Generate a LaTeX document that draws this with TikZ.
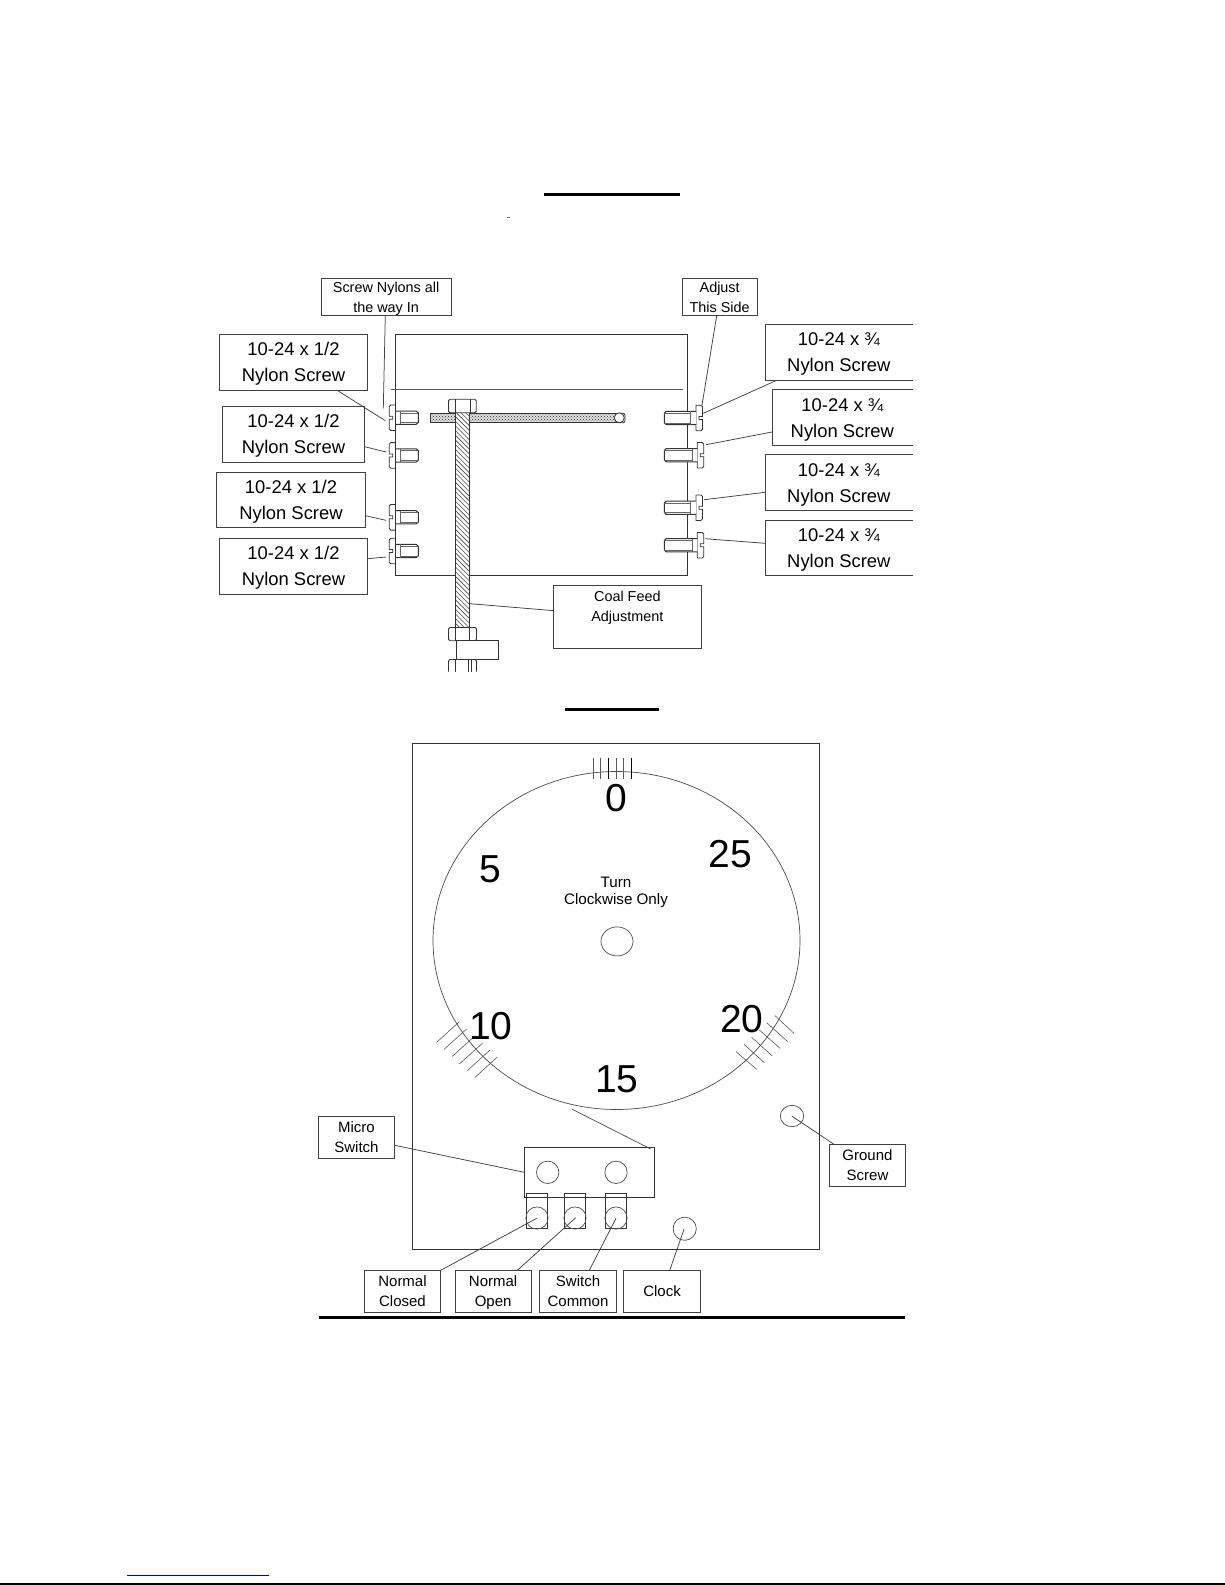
\documentclass[tikz,border=0pt]{standalone}
\usepackage{fontspec}
\setmainfont{Liberation Sans}
\usetikzlibrary{patterns}
\newcommand{\tp}{\rule{0pt}{.91em}}
\newcommand{\bt}{\rule[-.21em]{0pt}{0pt}}
\tikzset{
  part/.style={draw=black!80,line width=0.8pt},
  hair/.style={draw=black!70,line width=0.7pt},
  leader/.style={draw=black!75,line width=0.75pt},
  bar/.style={draw=black,line width=3pt},
  boxbase/.style={inner sep=0pt,outer sep=0pt,align=center,text=black},
  bigtext/.style={font=\fontsize{18.4}{26}\selectfont},
  smalltext/.style={font=\fontsize{14.4}{20}\selectfont},
  midtext/.style={font=\fontsize{15}{20}\selectfont},
  numtext/.style={font=\fontsize{39}{42}\selectfont,inner sep=0pt,text=black},
}
% name, text style, x1, y1, x2, y2, text
\newcommand{\lbox}[7]{\node[boxbase,#2,draw=black!75,line width=0.9pt,minimum width={(#5-#3)*1pt},minimum height={(#6-#4)*1pt}] (#1) at ({(#3+#5)/2},{(#4+#6)/2}) {#7};}
% box with no right edge
\newcommand{\obox}[7]{\node[boxbase,#2,minimum width={(#5-#3)*1pt},minimum height={(#6-#4)*1pt}] (#1) at ({(#3+#5)/2},{(#4+#6)/2}) {#7};
  \draw[draw=black!75,line width=0.9pt] (#1.north east) -- (#1.north west) -- (#1.south west) -- (#1.south east);}
\newcommand{\screwL}[1]{\begin{scope}[shift={(395.7,#1)}]
  \draw[part] (0,-12.8) [rounded corners=1.5pt] -- (-6.4,-12.8) [sharp corners] -- (-6.4,-1.5) -- (-3,-1.5) -- (-3,1.5) -- (-6.4,1.5) [rounded corners=1.5pt] -- (-6.4,12.8) [sharp corners] -- (0,12.8);
  \draw[part,fill=white,line width=1pt] (0,-6.6) -- (20.5,-6.6) -- (22.6,-4.8) -- (22.6,4.8) -- (20.5,6.6) -- (0,6.6);
  \draw[part,line width=0.5pt] (0,-6.6) -- (0,6.6);
  \draw[draw=black!60,line width=0.6pt] (4.3,-6.6) -- (4.3,6.6) (4.3,-4.8) -- (22.6,-4.8) (4.3,4.8) -- (22.6,4.8);
\end{scope}}
\newcommand{\screwR}[2]{\begin{scope}[shift={(#1,#2)}]
  \draw[part,fill=white] (0,-12.8) [rounded corners=1.5pt] -- (6.4,-12.8) [sharp corners] -- (6.4,-1.5) -- (3,-1.5) -- (3,1.5) -- (6.4,1.5) [rounded corners=1.5pt] -- (6.4,12.8) [sharp corners] -- (0,12.8) -- cycle;
  \draw[part,fill=white,line width=1.1pt] (0,-6.6) -- ({664.3-#1+2},-6.6) -- ({664.3-#1},-4.8) -- ({664.3-#1},4.8) -- ({664.3-#1+2},6.6) -- (0,6.6);
  \draw[draw=black!60,line width=0.6pt] (-5.3,-6.6) -- (-5.3,6.6) (-5.3,-4.8) -- ({664.3-#1},-4.8) (-5.3,4.8) -- ({664.3-#1},4.8);
\end{scope}}
\begin{document}
\begin{tikzpicture}[x=1pt,y=-1pt]
\useasboundingbox (0,0) rectangle (1225,1585);
\fill[white] (0,0) rectangle (1225,1585);

% title rules
\draw[bar] (544,194.5) -- (680,194.5);
\draw[bar] (565,709.5) -- (659,709.5);
\draw[bar] (319,1317.5) -- (905,1317.5);
\draw[black!55,line width=0.7pt] (507,217.3) -- (510,217.3);
\draw[draw={rgb,255:red,0;green,0;blue,204},line width=1pt] (127,1575) -- (268.7,1575);
\draw[black,line width=1.5pt] (0,1584) -- (1225,1584);

% upper frame
\draw[part] (395.7,334.3) rectangle (687.3,575.5);
\draw[part,black!65] (390.7,389.7) -- (682.7,389.7);

% horizontal threaded rod
\fill[black!12] (430.3,413.3) rectangle (620,422.7);
\draw[part,pattern=crosshatch dots,pattern color=black!85] (430.3,413.3) rectangle (620,422.7);
\draw[part,rounded corners=2pt] (620,413.3) -- (625,413.3) -- (625,422.7) -- (620,422.7);
\draw[part,fill=white] (619.3,417.8) circle [radius=5pt];

% vertical threaded rod
\fill[white] (455.7,412.7) rectangle (469.7,627.5);
\begin{scope}
  \clip (455.7,412.7) rectangle (469.7,627.5);
  \foreach \yy in {398,402.7,...,628} {\draw[black!70,line width=0.6pt] (455.7,\yy) -- (469.7,\yy+14);}
\end{scope}
\draw[part] (455.7,412.7) -- (455.7,627.5) (469.7,412.7) -- (469.7,627.5);

% nuts on the rod
\draw[part,fill=white,rounded corners=1.5pt] (448.5,412.7) -- (448.5,399.3) -- (476.3,399.3) -- (476.3,412.7) -- cycle;
\draw[part,line width=0.6pt] (454.8,399.3) -- (454.8,412.7) (470,399.3) -- (470,412.7);
\draw[part,fill=white,rounded corners=1.5pt] (448.5,640.7) -- (448.5,627.5) -- (476.5,627.5) -- (476.5,640.7) -- cycle;
\draw[part,line width=0.6pt] (455.3,627.5) -- (455.3,640.7) (469.3,627.5) -- (469.3,640.7);
\draw[part,fill=white] (456.2,640.7) rectangle (498,659.3);
\draw[part,line width=1.1pt] (456.2,640.7) -- (456.2,659.3);
\draw[part,rounded corners=1.5pt] (448.5,671.7) -- (448.5,659.5) -- (476.5,659.5) -- (476.5,671.7);
\draw[part,line width=0.6pt] (455.3,659.5) -- (455.3,671.7) (468.5,659.5) -- (468.5,671.7) (471,659.5) -- (471,671.7);

% screws
\screwL{417.7}
\screwL{455.4}
\screwL{517.3}
\screwL{551}
\screwR{696}{418}
\screwR{697.3}{455.2}
\screwR{696}{507.7}
\screwR{697.3}{545.2}

% labels, upper figure
\lbox{sn}{smalltext}{321.3}{278.3}{451}{315.7}{\tp Screw Nylons all\\the way In\bt}
\lbox{adj}{smalltext}{682.3}{278.3}{757}{315.7}{\tp Adjust\\This Side\bt}
\lbox{l1}{bigtext}{219.3}{334.3}{367.7}{390}{\tp 10-24 x 1/2\\Nylon Screw\bt}
\lbox{l2}{bigtext}{222.3}{406.3}{364.7}{462.3}{\tp 10-24 x 1/2\\Nylon Screw\bt}
\lbox{l3}{bigtext}{216.7}{472}{365.3}{527.7}{\tp 10-24 x 1/2\\Nylon Screw\bt}
\lbox{l4}{bigtext}{219.3}{538.3}{367.7}{594.7}{\tp 10-24 x 1/2\\Nylon Screw\bt}
\obox{r1}{bigtext}{765}{324.3}{912.7}{380.3}{\tp 10-24 x ¾\\Nylon Screw\bt}
\obox{r2}{bigtext}{772}{389.7}{912.7}{445.7}{\tp 10-24 x ¾\\Nylon Screw\bt}
\obox{r3}{bigtext}{765}{454.7}{912.7}{510.7}{\tp 10-24 x ¾\\Nylon Screw\bt}
\obox{r4}{bigtext}{765}{520.3}{912.7}{575.7}{\tp 10-24 x ¾\\Nylon Screw\bt}
\lbox{coal}{smalltext}{553}{585.3}{701.7}{648.3}{\tp Coal Feed\\Adjustment\\~\bt}

% leader tips, upper figure
\coordinate (tsn) at (383.3,408.3);
\coordinate (tl1) at (385.3,420.7);
\coordinate (tl2) at (386,452);
\coordinate (tl3) at (386,520.3);
\coordinate (tl4) at (386,557);
\coordinate (tadj) at (702,405);
\coordinate (tr1) at (703.3,413.3);
\coordinate (tr2) at (706,444.7);
\coordinate (tr3) at (704,499.7);
\coordinate (tr4) at (705,538.7);
\coordinate (tcoal) at (470,603.7);
\draw[leader] ([xshift=64pt]sn.south west) -- (tsn);
\draw[leader] ([xshift=117.4pt]l1.south west) -- (tl1);
\draw[leader] ([yshift=15.6pt]l2.south east) -- (tl2);
\draw[leader] ([yshift=12pt]l3.south east) -- (tl3);
\draw[leader] ([yshift=36pt]l4.south east) -- (tl4);
\draw[leader] ([xshift=34.4pt]adj.south west) -- (tadj);
\draw[leader] ([xshift=11.7pt]r1.south west) -- (tr1);
\draw[leader] ([yshift=13.7pt]r2.south west) -- (tr2);
\draw[leader] ([yshift=18.4pt]r3.south west) -- (tr3);
\draw[leader] ([yshift=32.4pt]r4.south west) -- (tr4);
\draw[leader] ([yshift=37.7pt]coal.south west) -- (tcoal);

% lower plate
\draw[part] (412.4,743.6) rectangle (819.5,1249.2);
\draw[hair] (616.5,940.5) ellipse [x radius=183.5pt,y radius=169pt];
\draw[hair] (617,941.4) ellipse [x radius=16pt,y radius=14.5pt];

% ticks
\foreach \xx/\cc in {593.3/65,600.7/65,608.3/95,616/65,623.7/65,631.3/95}
  {\draw[black!\cc,line width=0.7pt] (\xx,757.7) -- (\xx,779);}
\foreach \a/\b/\c/\d in {50/187/118/125,72/208/140/147,97/229/165/167,118/252/187/190,142/272/210/210,165/292/232/231,1065/107/1122/160,1040/128/1103/185,1018/150/1080/205,995/172/1057/228,972/193/1033/248,948/215/1010/268}
  {\draw[black!65,line width=0.6pt] ({420+\a/3},{980+\b/3}) -- ({420+\c/3},{980+\d/3});}

% dial numbers and text
\node[numtext] (n0) at (616,798) {0};
\node[numtext] (n5) at (490.5,869) {5};
\node[numtext] (n25) at (730,854) {25};
\node[numtext] (n10) at (490.7,1026) {10};
\node[numtext] (n20) at (741.7,1019.3) {20};
\node[numtext] (n15) at (616.7,1079.7) {15};
\node[boxbase,font=\fontsize{15.2}{17}\selectfont] (turn) at (616,890.5) {\tp Turn\\Clockwise Only\bt};

% micro switch
\draw[hair] (572.3,1109.3) -- (650.7,1149);
\draw[part] (524.3,1147.3) rectangle (654.3,1197.3);
\draw[hair] (547.7,1172.3) circle [radius=11.2pt];
\draw[hair] (616,1172.3) circle [radius=11.2pt];
\foreach \xa/\xb in {526.7/547.7,564.7/585.7,605.3/626.3}
  {\draw[part] (\xa,1193.3) rectangle (\xb,1228.7);}
\foreach \xx in {537,575,616}
  {\draw[hair] (\xx,1218) circle [radius=11.1pt];}
\draw[hair] (684.7,1228.7) circle [radius=11.6pt];
\draw[hair] (792,1116) ellipse [x radius=11.7pt,y radius=10.7pt];

% labels, lower figure
\lbox{ms}{midtext}{318.3}{1116.3}{394.7}{1158.7}{\tp Micro\\Switch\bt}
\lbox{gs}{midtext}{829.3}{1144.3}{905.7}{1186.3}{\tp Ground\\Screw\bt}
\lbox{nc}{midtext}{364.3}{1270.3}{440.7}{1312.3}{\tp Normal\\Closed\bt}
\lbox{no}{midtext}{455}{1270.3}{531.3}{1312.3}{\tp Normal\\Open\bt}
\lbox{sc}{midtext}{539.7}{1270.3}{616.3}{1312.3}{\tp Switch\\Common\bt}
\lbox{ck}{midtext}{623.7}{1270.3}{700.3}{1312.3}{\tp Clock\bt}

\coordinate (tms) at (524.3,1172.3);
\coordinate (tgs) at (791.7,1116);
\coordinate (tnc) at (536.7,1218.3);
\coordinate (tno) at (575.7,1217.7);
\coordinate (tsc) at (616,1218.3);
\coordinate (tck) at (684,1229.3);
\draw[leader] ([yshift=13.4pt]ms.south east) -- (tms);
\draw[leader] ([xshift=4.7pt]gs.north west) -- (tgs);
\draw[leader] (nc.north east) -- (tnc);
\draw[leader] ([xshift=62.3pt]no.north west) -- (tno);
\draw[leader] ([xshift=49.6pt]sc.north west) -- (tsc);
\draw[leader] ([xshift=46pt]ck.north west) -- (tck);
\end{tikzpicture}
\end{document}
